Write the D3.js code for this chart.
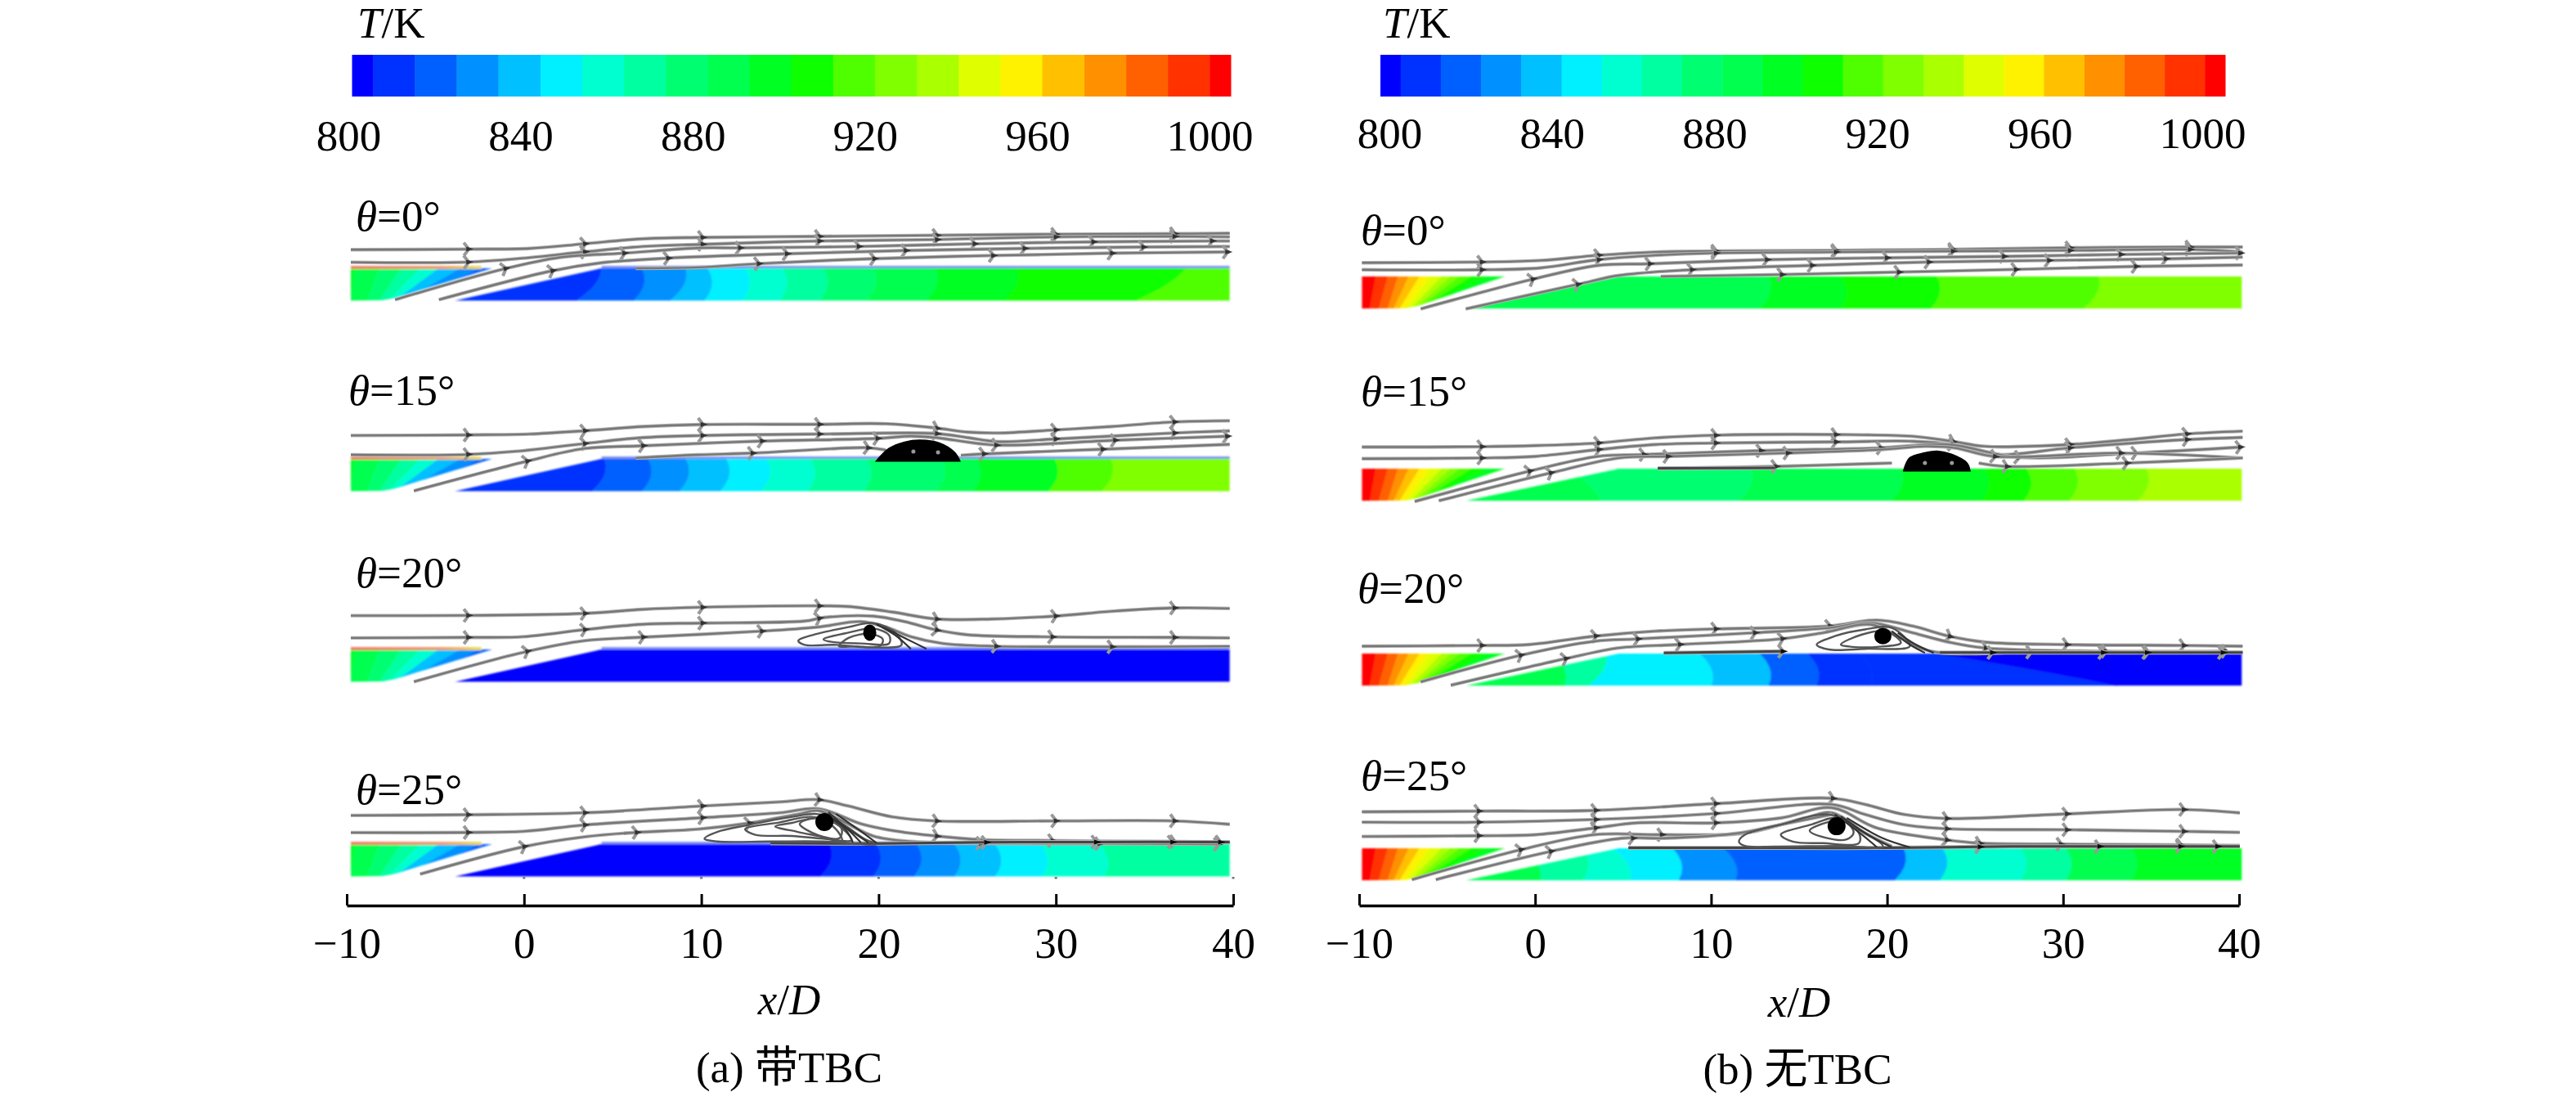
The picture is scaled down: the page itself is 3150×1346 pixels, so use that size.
<!DOCTYPE html>
<html>
<head>
<meta charset="utf-8">
<script src="https://cdn.jsdelivr.net/npm/d3@7"></script>
<style>
  html, body { margin: 0; padding: 0; background: #fff; }
  svg { display: block; }
  text { font-family: "Liberation Serif", "Noto Sans CJK SC", serif; fill: #000; }
</style>
</head>
<body>
<svg id="chart" width="3150" height="1346"></svg>
<script>
'use strict';

const tempTicks = [800, 840, 880, 920, 960, 1000];
const xTicks = [-10, 0, 10, 20, 30, 40];
const thetaLabels = ['0', '15', '20', '25'];

// colour legend: 22 bands, first and last half width
const bandColors = ['#0000ff', '#0030ff', '#0060ff', '#0090ff', '#00c0ff', '#00f0ff', '#00ffd0', '#00ffa0',
  '#00ff70', '#00ff50', '#00ff20', '#10ff00', '#50ff00', '#80ff00', '#aaff00', '#dfff00',
  '#fff200', '#ffc000', '#ff9000', '#ff6000', '#ff3000', '#ff0000'];
const bandBreaks = [804.8, 814.3, 823.8, 833.3, 842.9, 852.4, 861.9, 871.4, 881, 890.5, 900,
  909.5, 919, 928.6, 938.1, 947.6, 957.1, 966.7, 976.2, 985.7, 995.2];

// wall temperature, each row: [x/D at top of wall, x/D at bottom of wall, T/K left of that line]
const upstreamA = [[-9.56, -9.77, 895], [-8.15, -8.86, 886], [-6.92, -8.15, 876], [-5.86, -7.62, 867],
  [-4.8, -7.27, 857], [-3.57, -6.74, 838], [-2.5, -6, 829], [0, 0, 819]];
const upstreamB = [[-9.05, -9.39, 1000], [-8.37, -8.88, 990], [-7.79, -8.37, 981], [-7.18, -8.03, 971],
  [-6.56, -7.69, 962], [-5.98, -7.35, 952], [-5.3, -7.07, 943], [-4.79, -6.84, 933], [-4.28, -6.67, 924],
  [-3.6, -6.5, 914], [-2.74, -6.32, 905], [0, 0, 895]];

const a0Bands = [[4.37, 2.96, 810], [6.66, 6.2, 819], [9.13, 8.25, 829], [10.36, 10.18, 838], [12.48, 12.3, 848],
  [14.59, 14.42, 857], [16.9, 16.7, 867], [19.7, 19.35, 876], [23.23, 22.7, 886], [27.8, 27.11, 895],
  [37.34, 34.52, 905], [42, 42, 914]];
const a15Bands = [[4.54, 3.84, 810], [7.01, 6.66, 819], [9.13, 8.77, 829], [11.42, 11.07, 838], [13.71, 13.36, 848],
  [16.18, 16, 857], [19.35, 19.17, 867], [23.58, 23.23, 876], [25.52, 25.35, 886], [29.93, 29.58, 895],
  [33.1, 32.58, 914], [42, 42, 924]];
const a20Bands = [[42, 42, 800]];
const a25Bands = [[17.24, 16.71, 800], [19.88, 19.7, 810], [22.17, 22, 819], [24.29, 24.29, 829], [26.58, 26.58, 838],
  [29.16, 29.23, 848], [32.47, 32.75, 857], [42, 42, 867]];
const b0Bands = [[13.28, 12.77, 886], [17.37, 17.37, 895], [22.83, 22.49, 905], [32.03, 31.18, 914], [42, 42, 924]];
const b15Bands = [[1.69, 3.73, 886], [12.26, 11.58, 876], [20.78, 20.27, 886], [25.55, 25.38, 895], [27.94, 27.77, 905],
  [30.67, 30.33, 914], [34.76, 34.25, 924], [42, 42, 933]];
const b20Bands = [[1, 1.69, 886], [4.07, 3.05, 867], [9.36, 10.04, 848], [12.77, 13.28, 838], [15.5, 16, 819],
  [18.39, 19.08, 810], [22.83, 33.06, 805], [42, 42, 800]];
const b25Bands = [[-0.7, 0.32, 886], [2.71, 2.71, 867], [4.42, 5.44, 857], [7.83, 8.17, 848], [10.72, 11.41, 829],
  [20.95, 20.44, 819], [23.17, 23, 838], [27.6, 27.6, 857], [30.16, 30.16, 867], [33.9, 33.9, 886], [42, 42, 895]];

// streamlines, each row: [x/D], [height above wall in D], [x/D of arrows]
const a0Lines = [
  [[-9.77, -3.21, 0.31, 3.38, 6.66, 10.01, 16.6, 23.23, 29.93, 36.63, 39.8],
    [1.05, 1.08, 1.12, 1.38, 1.66, 1.74, 1.8, 1.86, 1.92, 1.95, 1.97],
    [-3.21, 3.38, 10.01, 16.6, 23.23, 29.93, 36.63]],
  [[-9.77, -3.21, -0.04, 3.38, 6.66, 10.01, 16.6, 23.23, 29.93, 36.63, 39.8],
    [0.34, 0.35, 0.57, 0.92, 1.23, 1.35, 1.54, 1.62, 1.77, 1.8, 1.77],
    [-3.21, 3.38, 10.01, 16.6, 23.23, 29.93, 36.63]],
  [[-7.27, -1.1, 2.07, 5.6, 10.01, 12.12, 18.82, 25.35, 32.05, 38.74, 39.8],
    [-1.77, -0.03, 0.62, 0.85, 1.15, 1.15, 1.23, 1.38, 1.49, 1.54, 1.54],
    [-1.1, 5.6, 12.12, 18.82, 25.35, 32.05, 38.74]],
  [[-4.8, 1.55, 4.37, 8.07, 14.77, 21.47, 28.17, 34.87, 39.8],
    [-1.77, -0.15, 0.31, 0.57, 0.82, 1, 1.12, 1.2, 1.23],
    [1.55, 8.07, 14.77, 21.47, 28.17, 34.87]],
  [[6.3, 9.83, 13.18, 19.7, 26.4, 33.1, 39.8],
    [0, 0.05, 0.26, 0.54, 0.72, 0.85, 0.92],
    [13.18, 19.7, 26.4, 33.1, 39.6]]
];
const a15Lines = [
  [[-9.77, -3.21, 0.31, 3.38, 6.66, 10.01, 16.6, 20.41, 23.23, 25, 26.77, 29.93, 33.1, 36.63, 39.8],
    [1.32, 1.35, 1.4, 1.58, 1.82, 1.94, 1.95, 1.98, 1.74, 1.51, 1.46, 1.63, 1.82, 2.08, 2.15],
    [-3.21, 3.38, 10.01, 16.6, 23.23, 29.93, 36.63]],
  [[-9.77, -3.21, -0.39, 3.38, 6.66, 10.01, 16.6, 23.23, 25, 26.77, 29.93, 36.63, 39.8],
    [0.23, 0.25, 0.43, 0.86, 1.2, 1.32, 1.4, 1.43, 1.2, 0.97, 1.12, 1.46, 1.58],
    [-3.21, 3.38, 10.01, 16.6, 23.23, 29.93, 36.63]],
  [[-6.21, 0.13, 3.38, 6.66, 13.36, 19.88, 21.82, 23.23, 26.58, 33.28, 39.8],
    [-1.8, -0.14, 0.58, 0.74, 1, 1.15, 1.28, 1.2, 0.78, 1.05, 1.28],
    [0.13, 6.66, 13.36, 19.88, 26.58, 33.28, 39.6]],
  [[6.3, 9.83, 12.83, 19.35, 20.41], [0.05, 0.23, 0.32, 0.63, 0.5], [12.83, 19.35]],
  [[24.64, 25.88, 32.58, 39.8], [0.2, 0.28, 0.54, 0.82], [25.88, 32.58]]
];
const a20Lines = [
  [[-9.77, -3.21, 3.38, 6.66, 10.01, 16.6, 18.3, 20.77, 23.23, 26.4, 29.93, 33.1, 36.63, 39.8],
    [1.91, 1.92, 2.03, 2.26, 2.38, 2.46, 2.42, 2.11, 1.72, 1.72, 1.88, 2.15, 2.34, 2.31],
    [-3.21, 3.38, 10.01, 16.6, 23.23, 29.93, 36.63]],
  [[-9.77, -3.21, -0.04, 3.38, 6.66, 10.01, 15.83, 16.9, 19.7, 21.47, 23.23, 25, 29.75, 36.63, 39.8],
    [0.65, 0.68, 0.72, 1.11, 1.42, 1.49, 1.6, 1.8, 1.88, 1.57, 1.11, 0.83, 0.71, 0.68, 0.65],
    [-3.21, 3.38, 10.01, 16.6, 23.23, 29.75, 36.63]],
  [[-6.21, 0.13, 3.38, 6.66, 13.36, 16.53, 19, 20.41, 21.82, 23.6, 26.58, 33.1, 39.8],
    [-1.82, -0.12, 0.49, 0.69, 1.03, 1.26, 1.57, 1.26, 0.72, 0.34, 0.18, 0.15, 0.18],
    [0.13, 6.66, 13.36, 26.58, 33.1]]
];
const a25Lines = [
  [[-9.77, -3.21, 3.38, 10.01, 14.42, 16.6, 18.3, 20.77, 23.23, 29.93, 36.63, 39.8],
    [1.62, 1.66, 1.77, 2.15, 2.38, 2.51, 2.15, 1.54, 1.31, 1.31, 1.31, 1.12],
    [-3.21, 3.38, 10.01, 16.6, 23.23, 29.93, 36.63]],
  [[-9.77, -3.21, -0.04, 3.38, 10.01, 14.42, 16.6, 19, 20.77, 23.23, 25.7, 29.75, 36.63, 39.8],
    [0.65, 0.66, 0.72, 1.08, 1.49, 1.77, 2, 1.15, 0.77, 0.46, 0.26, 0.2, 0.14, 0.11],
    [-3.21, 3.38, 10.01, 23.23, 29.75, 36.63]],
  [[-5.86, -0.04, 3.49, 6.3, 9.83, 12.65, 15.47, 16.6, 17.94, 19.7, 21.82, 25.7, 32.4, 39.1],
    [-1.69, -0.15, 0.42, 0.66, 0.85, 1.18, 1.69, 1.89, 1.31, 0.46, 0.15, 0.05, 0.03, 0],
    [-0.04, 6.3, 12.65, 25.7, 32.4, 39.1]]
];
const b0Lines = [
  [[-9.84, -3.09, 0.32, 3.56, 6.8, 10.21, 17.03, 23.68, 30.33, 37.15, 40.2],
    [0.78, 0.82, 0.91, 1.2, 1.39, 1.44, 1.48, 1.54, 1.63, 1.67, 1.67],
    [-3.09, 3.56, 10.21, 17.03, 23.68, 30.33, 37.15]],
  [[-9.84, -3.09, 0.32, 3.56, 6.8, 10.21, 17.03, 23.68, 30.33, 37.15, 40.2],
    [0.38, 0.38, 0.49, 0.95, 1.2, 1.33, 1.39, 1.44, 1.48, 1.54, 1.39],
    [-3.09, 3.56, 10.21, 17.03, 23.68, 30.33, 37.15]],
  [[-6.5, -0.19, 3.56, 6.46, 13.11, 19.93, 26.58, 33.22, 40.2],
    [-1.84, -0.17, 0.63, 0.72, 0.95, 1.06, 1.14, 1.25, 1.33],
    [-0.19, 6.46, 13.11, 19.93, 26.58, 33.22, 40]],
  [[-3.94, 2.37, 4.76, 8.85, 15.67, 22.31, 29.14, 35.78, 40.2],
    [-1.84, -0.46, 0.06, 0.38, 0.63, 0.82, 0.91, 1, 1.1],
    [2.37, 8.85, 15.67, 22.31, 29.14, 35.78]],
  [[7.14, 13.96, 20.61, 27.26, 34.08, 40.2], [0, 0.11, 0.25, 0.4, 0.57, 0.65], [13.96, 20.61, 27.26, 34.08]]
];
const b15Lines = [
  [[-9.84, -3.09, 0, 3.56, 6.8, 10.21, 17.03, 21.46, 23.68, 25.55, 30.33, 33.74, 36.98, 40.2],
    [1.23, 1.25, 1.31, 1.46, 1.75, 1.9, 1.94, 1.84, 1.56, 1.27, 1.37, 1.65, 1.97, 2.13],
    [-3.09, 3.56, 10.21, 17.03, 23.68, 30.33, 36.98]],
  [[-9.84, -3.09, 0, 3.56, 6.8, 10.21, 17.03, 21.46, 23.68, 26.23, 30.33, 36.98, 40.2],
    [0.57, 0.61, 0.7, 1.08, 1.37, 1.46, 1.52, 1.56, 1.37, 0.8, 1.18, 1.65, 1.78],
    [-3.09, 3.56, 10.21, 17.03, 23.68, 30.33, 36.98]],
  [[-6.84, -0.36, 3.56, 6.12, 12.77, 19.59, 23.51, 27.43, 34.08, 40.2],
    [-1.86, -0.15, 0.7, 0.8, 1.02, 1.18, 1.37, 0.65, 0.89, 1.23],
    [-0.36, 6.12, 12.77, 19.59, 27.43, 34.08, 40]],
  [[-5.47, 0.84, 4.76, 7.48, 14.3, 19.59, 22.15, 23.85, 26.07, 33.22, 40.2],
    [-1.82, -0.25, 0.61, 0.7, 0.89, 1.08, 1.27, 1.18, 0.7, 0.89, 0.61],
    [0.84, 7.48, 14.3, 26.07, 33.22]],
  [[6.97, 13.62, 20.27], [0, 0.13, 0.32], [13.62]],
  [[25.21, 26.75, 33.57, 40.2], [0.32, 0.13, 0.32, 0.61], [26.75, 33.57]]
];
const b20Lines = [
  [[-9.84, -3.09, -0.36, 3.39, 6.8, 10.21, 16.69, 19.42, 21.46, 23.51, 25.55, 30.16, 36.8, 40.2],
    [0.42, 0.46, 0.51, 0.99, 1.27, 1.4, 1.56, 1.9, 1.56, 0.99, 0.65, 0.51, 0.46, 0.42],
    [-3.09, 3.39, 10.21, 16.69, 23.51, 30.16, 36.8]],
  [[-6.5, -0.87, 3.39, 5.78, 12.43, 16.69, 19.08, 21.46, 23.51, 25.55, 32.37, 39.19],
    [-1.61, -0.11, 0.7, 0.83, 1.18, 1.46, 1.75, 1.18, 0.65, 0.32, 0.13, 0.13],
    [-0.87, 5.78, 12.43, 25.55, 32.37, 39.19]],
  [[-4.79, 1.69, 4.76, 8.17, 13.96, 16.35, 19.08, 20.78, 22.49, 28.1, 34.76, 40.2],
    [-1.8, -0.3, 0.32, 0.51, 0.83, 1.18, 1.65, 0.89, 0.13, 0.08, 0.08, 0.08],
    [1.69, 8.17, 14, 28.1, 34.76]]
];
const b25Lines = [
  [[-9.84, -3.26, 3.39, 10.21, 16.86, 18.74, 20.95, 23.34, 30.16, 36.8, 40.04],
    [2.07, 2.11, 2.15, 2.53, 2.84, 2.49, 1.92, 1.69, 1.95, 2.2, 2.01],
    [-3.26, 3.39, 10.21, 16.86, 23.34, 30.16, 36.8]],
  [[-9.84, -3.26, 3.39, 10.21, 16.86, 18.74, 20.95, 23.34, 30.16, 36.8, 40.04],
    [1.48, 1.48, 1.63, 1.97, 2.49, 1.92, 1.34, 1.11, 1.05, 0.96, 0.9],
    [-3.26, 3.39, 10.21, 23.34, 30.16, 36.8]],
  [[-9.84, -3.26, 0, 3.39, 5.78, 10.21, 13.96, 16.86, 19.42, 23.34, 25.21, 29.82, 36.63, 40.04],
    [0.67, 0.71, 0.77, 1.15, 1.44, 1.44, 1.72, 2.3, 1.15, 0.48, 0.29, 0.23, 0.19, 0.15],
    [-3.26, 3.39, 10.21, 23.34, 25.21, 29.82, 36.63]],
  [[-7, -0.87, 3.39, 7.14, 11.92, 15.33, 16.86, 18.74, 20.27],
    [-1.78, -0.1, 0.77, 0.77, 0.86, 1.72, 2.01, 0.86, 0.1],
    [-0.87, 7.14]],
  [[-5.64, 0.84, 4.93, 7.31, 11.58, 13.96, 16.86],
    [-1.78, -0.19, 0.57, 0.57, 0.86, 1.34, 1.92],
    [0.84, 5.5]]
];

// lines that lie on the wall, drawn darker: [x/D], [height in D], [x/D of arrows]
const a25Wall = [[[13.9, 20, 26, 32, 39.8], [0.06, 0.03, 0.1, 0.12, 0.12], [26, 32.2, 36.5, 39.2]]];
const b15Wall = [[[6.97, 13.62], [0.02, 0.05], []]];
const b20Wall = [[[7.31, 14.13], [0.04, 0.13], [14]], [[23, 30, 40.2], [0.06, 0.06, 0.06], [25.9, 32.2, 34.7, 39]]];
const b25Wall = [[[5.3, 14, 20, 27, 33, 40.04], [0.02, 0.02, 0.02, 0.1, 0.1, 0.1], [25.2, 32, 36.6, 38.7]]];

// separation bubbles: [x/D], [height in D]
const a15Blob = [[19.88, 20.59, 21.47, 22.35, 23.41, 24.29, 24.57], [-0.12, 0.58, 0.94, 1.05, 0.89, 0.35, -0.12]];
const b15Blob = [[20.95, 21.29, 22.15, 22.83, 23.68, 24.53, 24.7], [-0.12, 0.61, 0.89, 0.99, 0.8, 0.32, -0.12]];
const a15Specks = [[21.96, 0.41], [23.35, 0.37]];
const b15Specks = [[22.15, 0.32], [23.68, 0.32]];
const a20Core = [19.5, 0.95];
const a25Core = [16.94, 1.25];
const b20Core = [19.76, 0.99];
const b25Core = [17.13, 1.25];
const a20Loops = [
  [[15.47, 16.53, 18.3, 19.7, 20.94, 21.29, 19.7, 17.59, 15.83], [0.49, 0.88, 1.26, 1.49, 0.95, 0.26, 0.11, 0.26, 0.26]],
  [[16.89, 18.3, 19.7, 20.59, 20.59, 19, 17.41], [0.57, 0.95, 1.18, 0.8, 0.34, 0.34, 0.42]],
  [[18.3, 19.53, 20.24, 20.06, 18.65, 17.77], [0.65, 0.88, 0.57, 0.18, 0.18, 0.18]]
];
const a25Loops = [
  [[10.18, 10.89, 12.65, 15.12, 16.6, 17.94, 19.18, 19.88, 16.88, 13.89, 10.89], [0.31, 0.69, 1.08, 1.54, 1.69, 1.15, 0.31, 0, 0.15, 0.15, 0.15]],
  [[12.47, 14.42, 16.18, 17.59, 18.47, 16.88, 15.12, 13.01], [0.85, 1.23, 1.54, 1.15, 0.23, 0.31, 0.46, 0.54]],
  [[14.17, 15.12, 16.53, 17.59, 17.94, 16.88, 15.4], [1, 1.2, 1.45, 0.85, 0.15, 0.4, 0.7]],
  [[15.55, 16.9, 17.9, 17.8, 16.6], [1.15, 1.5, 0.9, 0.35, 0.5]]
];
const b20Loops = [
  [[16, 17.03, 18.74, 20.27, 21.29, 18.74, 16.69], [0.51, 0.99, 1.37, 1.46, 0.42, 0.27, 0.23]],
  [[17.37, 18.57, 19.93, 20.78, 19.42, 18.05], [0.51, 1.08, 1.27, 0.61, 0.38, 0.38]]
];
const b25Loops = [
  [[11.58, 11.92, 13.96, 16.69, 18.05, 19.76, 17.37, 13.62, 11.92], [0.38, 0.77, 1.34, 1.92, 1.25, 0.1, 0.13, 0.1, 0.13]],
  [[13.96, 15.67, 17.2, 18.4, 18.4, 16.35, 14.64], [0.77, 1.34, 1.72, 0.86, 0.29, 0.29, 0.38]],
  [[15.6, 16.7, 17.5, 18.1, 17.7, 16.5], [1.0, 1.5, 1.6, 0.9, 0.5, 0.6]]
];

// lines falling from the vortex to the wall: [x/D], [height in D]
const a20Falls = [
  [[19.88, 20.94, 21.82], [1.42, 0.8, 0.03]],
  [[20.24, 21.47, 22.7], [1.26, 0.65, 0.03]]
];
const a25Falls = [
  [[16.9, 18.09, 18.55], [1.7, 0.88, 0.09]],
  [[17.17, 18.41, 19], [1.8, 0.69, 0.09]],
  [[17.35, 18.74, 19.43], [1.48, 0.55, 0.09]],
  [[17.6, 19.1, 19.9], [1.7, 0.65, 0.05]]
];
const b20Falls = [
  [[20.27, 21.29, 22.15], [1.27, 0.51, 0.04]],
  [[20.61, 21.63, 22.65], [1.18, 0.51, 0.04]]
];
const b25Falls = [
  [[17.03, 18.57, 19.42], [1.92, 0.77, 0.06]],
  [[17.37, 19.07, 20.27], [1.82, 0.67, 0.06]],
  [[17.71, 19.76, 21.29], [1.72, 0.57, 0.06]]
];

const FONT = 53;
const stripDepth = 1.82;   // wall thickness in D
const colorOf = d3.scaleThreshold().domain(bandBreaks).range(bandColors);

const panels = [
  {
    axisRange: [424, 1508], axisY: 1107, barRange: [430.5, 1505], labelRange: [426, 1479], labelY: 146,
    titleX: 437, xLabelX: 965, xLabelY: 1240, caption: ['(a) 带TBC', 965, 1323],
    left: -9.77, right: 39.8, hole: [-1.8, -7.27], plateTop: 4.37, plateBottom: -3.9, upstream: upstreamA, tbc: true,
    strips: [
      { wall: 328, labelX: 435, labelY: 282, bands: a0Bands, lines: a0Lines },
      { wall: 561, labelX: 426, labelY: 495, bands: a15Bands, lines: a15Lines, blob: a15Blob, specks: a15Specks },
      { wall: 794, labelX: 435, labelY: 718, bands: a20Bands, lines: a20Lines, core: a20Core, coreR: [8, 10], loops: a20Loops, falls: a20Falls },
      { wall: 1032, labelX: 435, labelY: 983, bands: a25Bands, lines: a25Lines, core: a25Core, coreR: [11, 11], loops: a25Loops, falls: a25Falls, wallLines: a25Wall }
    ]
  },
  {
    axisRange: [1662, 2738], axisY: 1107, barRange: [1688, 2721], labelRange: [1699, 2693], labelY: 143,
    titleX: 1691, xLabelX: 2200, xLabelY: 1243, caption: ['(b) 无TBC', 2198, 1325],
    left: -9.84, right: 40.15, hole: [-1.72, -6.67], plateTop: 4.76, plateBottom: -3.94, upstream: upstreamB, tbc: false,
    strips: [
      { wall: 338, labelX: 1664, labelY: 299, bands: b0Bands, lines: b0Lines },
      { wall: 573, labelX: 1664, labelY: 496, bands: b15Bands, lines: b15Lines, blob: b15Blob, specks: b15Specks, wallLines: b15Wall },
      { wall: 799, labelX: 1660, labelY: 737, bands: b20Bands, lines: b20Lines, core: b20Core, coreR: [10.5, 10], loops: b20Loops, falls: b20Falls, wallLines: b20Wall },
      { wall: 1037, labelX: 1664, labelY: 966, bands: b25Bands, lines: b25Lines, core: b25Core, coreR: [11, 11], loops: b25Loops, falls: b25Falls, wallLines: b25Wall }
    ]
  }
];

const svg = d3.select('#chart');
const defs = svg.append('defs');

function addBlur(id, amount) {
  defs.append('filter').attr('id', id)
    .attr('filterUnits', 'userSpaceOnUse')
    .attr('x', 0).attr('y', 0).attr('width', 3150).attr('height', 1346)
    .append('feGaussianBlur').attr('stdDeviation', amount);
}
addBlur('soft', 1.2);
addBlur('softer', 0.7);

const pink = defs.append('linearGradient').attr('id', 'tbcEdge');
pink.append('stop').attr('offset', '0%').attr('stop-color', '#ee8070');
pink.append('stop').attr('offset', '70%').attr('stop-color', '#eea070');
pink.append('stop').attr('offset', '100%').attr('stop-color', '#e8e060');

function italicPair(sel, first, mid, last) {
  sel.append('tspan').attr('font-style', 'italic').text(first);
  sel.append('tspan').text(mid);
  if (last) sel.append('tspan').attr('font-style', last.italic ? 'italic' : 'normal').text(last.text);
}

function drawColorBar(g, panel) {
  const bar = d3.scaleLinear().domain([800, 1000]).range(panel.barRange);
  const edges = [800, ...bandBreaks, 1000];
  const barG = g.append('g').attr('filter', 'url(#softer)');
  barG.selectAll('rect').data(bandColors).join('rect')
    .attr('x', (d, i) => bar(edges[i]))
    .attr('width', (d, i) => bar(edges[i + 1]) - bar(edges[i]) + 0.5)
    .attr('y', 67).attr('height', 51)
    .attr('fill', d => d);

  const labels = d3.scaleLinear().domain([800, 1000]).range(panel.labelRange);
  const axis = d3.axisBottom(labels).tickValues(tempTicks).tickSize(0).tickPadding(0).tickFormat(d3.format('d'));
  const axisG = g.append('g').attr('transform', `translate(0,${panel.labelY})`).call(axis);
  axisG.select('.domain').remove();
  axisG.selectAll('text').attr('font-size', FONT).attr('font-family', null);

  const title = g.append('text').attr('x', panel.titleX).attr('y', 46).attr('font-size', FONT);
  italicPair(title, 'T', '/K');
}

function drawStrip(g, panel, strip, i, x) {
  const y = d3.scaleLinear().domain([0, 1]).range([strip.wall, strip.wall - (x(1) - x(0))]);
  const toPath = d3.line().x(d => x(d[0])).y(d => y(d[1]));
  const id = `clip-${panel.tbc ? 'a' : 'b'}-${i}`;

  const plate = [[panel.plateTop, 0], [panel.right, 0], [panel.right, -stripDepth], [panel.plateBottom, -stripDepth]];
  const up = [[panel.left, 0], [panel.hole[0], 0], [panel.hole[1], -stripDepth + 0.15], [panel.hole[1] - 0.7, -stripDepth + 0.02], [panel.left, -stripDepth]];
  defs.append('clipPath').attr('id', id + 'p').append('path').attr('d', toPath(plate) + 'Z');
  defs.append('clipPath').attr('id', id + 'u').append('path').attr('d', toPath(up) + 'Z');

  const field = g.append('g').attr('filter', 'url(#soft)');

  // contour line between two bands, bowed a little towards the outlet
  function boundary(top, bottom, bulge) {
    return d3.range(0, 1.01, 0.2).map(t => [top + (bottom - top) * t + bulge * 4 * t * (1 - t), -stripDepth * t]);
  }

  function drawBands(bands, clip, start, bulge) {
    const c = field.append('g').attr('clip-path', `url(#${clip})`);
    let prev = boundary(start, start, 0);
    bands.forEach(b => {
      const next = boundary(b[0], b[1], bulge);
      c.append('path')
        .attr('d', toPath(prev.concat(next.slice().reverse())) + 'Z')
        .attr('fill', colorOf(b[2]))
        .attr('stroke', colorOf(b[2])).attr('stroke-width', 0.6);
      prev = next;
    });
  }
  drawBands(panel.upstream, id + 'u', panel.left - 1, 0);
  drawBands(strip.bands, id + 'p', panel.left, 0.35);

  if (panel.tbc) {
    // thin hot coating on the wall surface
    field.append('rect')
      .attr('x', x(panel.left)).attr('width', x(panel.hole[0] - 0.6) - x(panel.left))
      .attr('y', y(0) - 3).attr('height', 4)
      .attr('fill', 'url(#tbcEdge)');
    field.append('rect')
      .attr('x', x(panel.plateTop)).attr('width', x(panel.right) - x(panel.plateTop))
      .attr('y', y(0) - 3).attr('height', 3)
      .attr('fill', '#7f93ee');
  }

  const curve = d3.line().x(d => x(d[0])).y(d => y(d[1])).curve(d3.curveCatmullRom.alpha(0.5));
  const closed = d3.line().x(d => x(d[0])).y(d => y(d[1])).curve(d3.curveCatmullRomClosed.alpha(0.5));
  const flow = g.append('g').attr('filter', 'url(#softer)').attr('fill', 'none');

  function drawArrow(row, xv, dark) {
    const h = d3.scaleLinear().domain(row[0]).range(row[1]);
    const angle = Math.atan2(y(h(xv + 0.1)) - y(h(xv - 0.1)), x(xv + 0.1) - x(xv - 0.1)) * 180 / Math.PI;
    const a = flow.append('g').attr('transform', `translate(${x(xv)},${y(h(xv))}) rotate(${angle})`);
    a.append('path').attr('d', 'M-4,-8L2,0L-4,8').attr('stroke', '#999').attr('stroke-width', 4);
    a.append('path').attr('d', 'M-1,-3L8,0L-1,3Z').attr('fill', dark ? '#111' : '#333');
  }

  function drawFlowLine(row, color, width, dark) {
    const pts = row[0].map((v, k) => [v, row[1][k]]);
    flow.append('path').attr('d', curve(pts)).attr('stroke', '#b4b4b4').attr('stroke-width', width + 2);
    flow.append('path').attr('d', curve(pts)).attr('stroke', color).attr('stroke-width', width);
    row[2].forEach(v => drawArrow(row, v, dark));
  }

  strip.lines.forEach(row => drawFlowLine(row, '#777', 2.4));
  (strip.wallLines || []).forEach(row => drawFlowLine(row, '#444', 3, true));

  (strip.loops || []).forEach(loop => {
    const pts = loop[0].map((v, k) => [v, loop[1][k]]);
    flow.append('path').attr('d', closed(pts)).attr('stroke', '#555').attr('stroke-width', 2.4);
  });
  (strip.falls || []).forEach(fall => {
    const pts = fall[0].map((v, k) => [v, fall[1][k]]);
    flow.append('path').attr('d', curve(pts)).attr('stroke', '#333').attr('stroke-width', 2.2);
  });
  if (strip.core) {
    flow.append('ellipse')
      .attr('cx', x(strip.core[0])).attr('cy', y(strip.core[1]))
      .attr('rx', strip.coreR[0]).attr('ry', strip.coreR[1]).attr('fill', '#000');
  }
  if (strip.blob) {
    const pts = strip.blob[0].map((v, k) => [v, strip.blob[1][k]]);
    flow.append('path').attr('d', curve(pts) + 'Z').attr('fill', '#000').attr('stroke', '#000').attr('stroke-width', 2);
    flow.selectAll('circle.speck').data(strip.specks).join('circle')
      .attr('class', 'speck')
      .attr('cx', d => x(d[0])).attr('cy', d => y(d[1])).attr('r', 2.5).attr('fill', '#999');
  }

  const label = g.append('text').attr('x', strip.labelX).attr('y', strip.labelY).attr('font-size', FONT);
  italicPair(label, 'θ', `=${thetaLabels[i]}°`);
}

panels.forEach(panel => {
  const g = svg.append('g');
  const x = d3.scaleLinear().domain([-10, 40]).range(panel.axisRange);

  drawColorBar(g, panel);
  panel.strips.forEach((strip, i) => drawStrip(g, panel, strip, i, x));

  if (panel.tbc) {
    // small leftover tick marks under the last strip
    g.append('g').selectAll('rect').data(xTicks.slice(1)).join('rect')
      .attr('x', d => x(d) - 1.5).attr('y', 1072).attr('width', 3).attr('height', 2.5).attr('fill', '#777');
  }

  const axis = d3.axisBottom(x).tickValues(xTicks).tickSizeInner(-14).tickSizeOuter(0).tickPadding(26);
  const axisG = g.append('g').attr('transform', `translate(0,${panel.axisY})`).call(axis);
  axisG.select('.domain').attr('stroke', '#000').attr('stroke-width', 3.5);
  axisG.selectAll('.tick line').attr('stroke', '#000').attr('stroke-width', 3);
  axisG.selectAll('text').attr('font-size', FONT).attr('font-family', null);

  const xLabel = g.append('text').attr('x', panel.xLabelX).attr('y', panel.xLabelY)
    .attr('text-anchor', 'middle').attr('font-size', FONT);
  italicPair(xLabel, 'x', '/', { italic: true, text: 'D' });

  g.append('text').attr('x', panel.caption[1]).attr('y', panel.caption[2])
    .attr('text-anchor', 'middle').attr('font-size', FONT).text(panel.caption[0]);
});
</script>
</body>
</html>
